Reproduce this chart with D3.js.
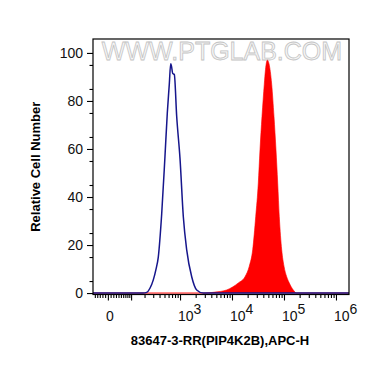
<!DOCTYPE html>
<html>
<head>
<meta charset="utf-8">
<script src="https://cdn.jsdelivr.net/npm/d3@7"></script>
<style>
  body { margin: 0; background: #fff; }
  svg { font-family: "Liberation Sans", Arial, sans-serif; }
</style>
</head>
<body>
<div class="chart"></div>
<script>
// channel intensity (APC-H) vs relative cell number
var blueX = [-58, 186, 222, 258, 301, 341, 378, 441, 511, 567, 620, 660, 683, 721, 775, 862, 999, 1157, 1344, 1678, 2094, 2805, 1780000];
var blueY = [0, 0, 0.3, 2, 5.5, 10, 15, 33, 57, 75, 87, 95.5, 94.5, 91.5, 91, 73.5, 56, 31.8, 18, 6.8, 1.3, 0, 0];

var redX = [-58, 3026, 4710, 7907, 13210, 17780, 21520, 25020, 28580, 32070, 34550, 37760, 41800, 44060, 47740, 51500, 57970, 64240, 70190, 75700, 81230, 90370, 100000, 112700, 126400, 150900, 175300, 1780000];
var redY = [0, 0, 0.4, 1.3, 4.2, 6.8, 11.2, 18, 31.8, 45.8, 59.6, 73.5, 87, 93, 97, 95.5, 87, 73.5, 59.6, 45.8, 31.8, 18, 11.2, 6.8, 4.2, 1.3, 0, 0];

var yTicks = [0, 20, 40, 60, 80, 100];
var xMajor = [0, 100, 1000, 10000, 100000, 1000000];
var xLabels = [["0", ""], ["", ""], ["10", "3"], ["10", "4"], ["10", "5"], ["10", "6"]];

var W = 370, H = 367;
var pLeft = 93, pRight = 349, pTop = 39, pBottom = 294.5;

var svg = d3.select('.chart').append('svg')
  .attr('width', W)
  .attr('height', H);

// biexponential-ish transform (asinh), log-like above ~100
var C = 41;
var tu = function(v) { return Math.asinh(v / (2 * C)) / Math.LN10 + Math.log10(C); };

var xs = d3.scaleLinear().domain([tu(-58), tu(1780000)]).range([pLeft, pRight]);
var x = function(v) { return xs(tu(v)); };
var y = d3.scaleLinear().domain([-0.6, 105.8]).range([pBottom, pTop]);

// minor ticks on x
var xMinor = [-50, -40, -30, -20, -10, 10, 20, 30, 40, 50, 60, 70, 80, 90];
[100, 1000, 10000, 100000].forEach(function(d) {
  for (var k = 2; k <= 9; k++) xMinor.push(d * k);
});

// watermark
svg.append('text')
  .attr('x', 222).attr('y', 60)
  .attr('text-anchor', 'middle')
  .attr('font-size', 25)
  .attr('fill', '#f6f6f6')
  .attr('stroke', '#c4c4c4')
  .attr('stroke-width', 0.8)
  .text('WWW.PTGLAB.COM');

// red filled histogram
var area = d3.area()
  .x(function(d) { return x(d[0]); })
  .y0(y(0))
  .y1(function(d) { return y(d[1]); })
  .curve(d3.curveMonotoneX);

svg.append('path')
  .datum(d3.zip(redX, redY))
  .attr('d', area)
  .attr('fill', '#ff0000')
  .attr('stroke', '#ff0000')
  .attr('stroke-width', 0.6);

// blue outline histogram
var line = d3.line()
  .x(function(d) { return x(d[0]); })
  .y(function(d) { return y(d[1]); })
  .curve(d3.curveMonotoneX);

svg.append('path')
  .datum(d3.zip(blueX, blueY))
  .attr('d', line)
  .attr('fill', 'none')
  .attr('stroke', '#16168c')
  .attr('stroke-width', 1.5);

// frame
svg.append('rect')
  .attr('x', pLeft).attr('y', pTop)
  .attr('width', pRight - pLeft).attr('height', pBottom - pTop)
  .attr('fill', 'none')
  .attr('stroke', '#000')
  .attr('stroke-width', 1.2);

// y axis
var yAxis = svg.append('g')
  .attr('transform', 'translate(' + pLeft + ',0)')
  .call(d3.axisLeft(y).tickValues(yTicks).tickSize(6).tickPadding(4));
yAxis.select('.domain').remove();
yAxis.selectAll('text').attr('font-size', 14).attr('fill', '#111').attr('font-family', '"Liberation Sans", Arial, sans-serif');

var yMinor = svg.append('g')
  .attr('transform', 'translate(' + pLeft + ',0)')
  .call(d3.axisLeft(y).tickValues(d3.range(5, 100, 10)).tickSize(3.5).tickFormat(''));
yMinor.select('.domain').remove();

// x axis
var xAxis = svg.append('g')
  .attr('transform', 'translate(0,' + pBottom + ')')
  .call(d3.axisBottom(xs).tickValues(xMajor.map(tu)).tickSize(6).tickFormat(''));
xAxis.select('.domain').remove();

var xMin = svg.append('g')
  .attr('transform', 'translate(0,' + pBottom + ')')
  .call(d3.axisBottom(xs).tickValues(xMinor.map(tu)).tickSize(3.5).tickFormat(''));
xMin.select('.domain').remove();

svg.selectAll('.tick line').attr('stroke-width', 1.1);

// x tick labels with superscripts
xMajor.forEach(function(v, i) {
  var lab = xLabels[i];
  if (!lab[0]) return;
  var t = svg.append('text')
    .attr('y', 321)
    .attr('font-size', 14)
    .attr('fill', '#111');
  if (lab[1]) {
    t.attr('x', x(v) - 2).attr('text-anchor', 'start');
    t.append('tspan').text(lab[0]);
    t.append('tspan').attr('dy', -7.5).text(lab[1]);
  } else {
    t.attr('x', x(v) + 2).attr('text-anchor', 'middle').text(lab[0]);
  }
});

// axis titles
svg.append('text')
  .attr('transform', 'translate(40,' + ((pTop + pBottom) / 2) + ') rotate(-90)')
  .attr('text-anchor', 'middle')
  .attr('font-size', 13)
  .attr('font-weight', 'bold')
  .text('Relative Cell Number');

svg.append('text')
  .attr('x', 220).attr('y', 345)
  .attr('text-anchor', 'middle')
  .attr('font-size', 13)
  .attr('font-weight', 'bold')
  .text('83647-3-RR(PIP4K2B),APC-H');
</script>
</body>
</html>
